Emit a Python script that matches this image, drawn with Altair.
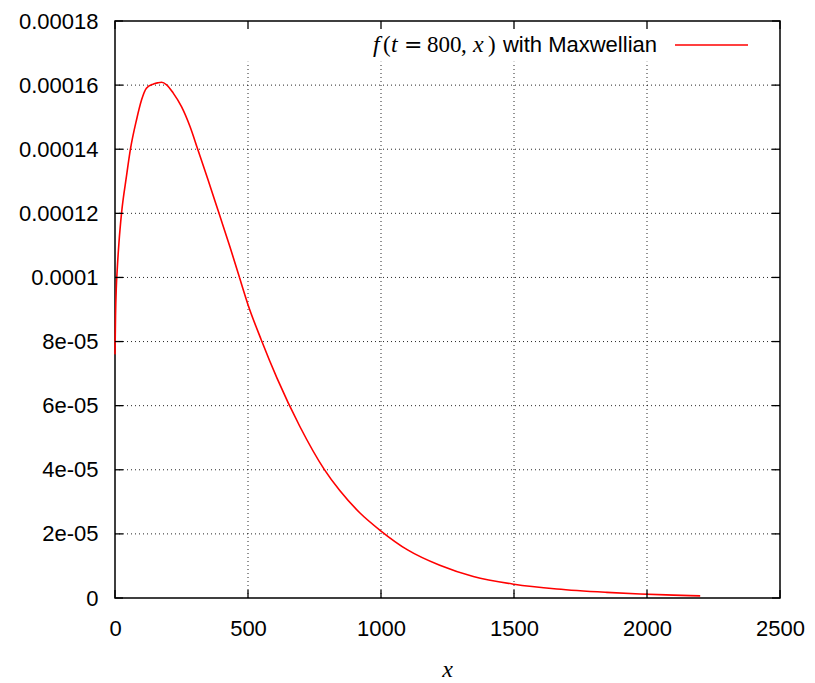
import json
import altair as alt
import pandas as pd

# Distribution f(t=800, x) sampled along x
x_vals = [0, 2, 5, 8.3, 15, 24.5, 43, 58, 81, 100, 118, 143, 160, 175, 194, 219,
          250, 282, 311, 350, 391, 432, 466, 500, 550, 609, 695, 786, 845, 920,
          1000, 1100, 1221, 1347, 1500, 1661, 1849, 1974, 2100, 2200]
f_vals = [7.6e-05, 8.8e-05, 9.7e-05, 1.024e-04, 1.11e-04, 1.20e-04, 1.315e-04,
          1.40e-04, 1.492e-04, 1.554e-04, 1.59e-04, 1.603e-04, 1.607e-04,
          1.609e-04, 1.601e-04, 1.575e-04, 1.533e-04, 1.471e-04, 1.40e-04,
          1.304e-04, 1.20e-04, 1.096e-04, 1.005e-04, 9.15e-05, 8.05e-05, 6.86e-05,
          5.35e-05, 4.02e-05, 3.35e-05, 2.66e-05, 2.09e-05, 1.5e-05, 1.02e-05,
          6.7e-06, 4.3e-06, 2.8e-06, 1.75e-06, 1.25e-06, 0.9e-06, 0.65e-06]

x_ticks = [0, 500, 1000, 1500, 2000, 2500]
y_ticks = [0, 2e-05, 4e-05, 6e-05, 8e-05, 1e-04, 1.2e-04, 1.4e-04, 1.6e-04, 1.8e-04]
y_tick_labels = ["0", "2e-05", "4e-05", "6e-05", "8e-05", "0.0001",
                 "0.00012", "0.00014", "0.00016", "0.00018"]
grid_x = [500, 1000, 1500, 2000]
grid_y = [2e-05, 4e-05, 6e-05, 8e-05, 1e-04, 1.2e-04, 1.4e-04, 1.6e-04]
key_bottom = 1.673e-04  # vertical grid lines stop under the key box

W, H = 665, 577
TICK = 8
SANS = "Liberation Sans"
SERIF = "Liberation Serif"

x_scale = alt.Scale(domain=[0, 2500], nice=False, zero=False)
y_scale = alt.Scale(domain=[0, 0.00018], nice=False, zero=False)

y_label_expr = json.dumps(y_tick_labels) + "[round(datum.value / 2e-05)]"
x_axis = alt.Axis(
    values=x_ticks, format="d", ticks=False, tickSize=0, domain=False, grid=False,
    labelFont=SANS, labelFontSize=22, labelColor="black", labelPadding=20,
    labelFlush=False, labelOverlap=False, title=None)
y_axis = alt.Axis(
    values=y_ticks, labelExpr=y_label_expr, ticks=False, tickSize=0, domain=False,
    grid=False, labelFont=SANS, labelFontSize=22, labelColor="black",
    labelPadding=17, labelOverlap=False, title=None)


def X(field):
    return alt.X(field, type="quantitative", scale=x_scale, axis=x_axis)


def Y(field):
    return alt.Y(field, type="quantitative", scale=y_scale, axis=y_axis)


curve_df = pd.DataFrame({"x": x_vals, "f": f_vals})
gx_df = pd.DataFrame({"x": grid_x, "y0": [0] * len(grid_x), "y1": [key_bottom] * len(grid_x)})
gy_df = pd.DataFrame({"y": grid_y})
xt_df = pd.DataFrame({"x": x_ticks})
yt_df = pd.DataFrame({"y": y_ticks})
one_row = pd.DataFrame({"k": [0]})

grid_style = dict(color="black", strokeWidth=1, strokeDash=[1, 3], opacity=0.85)

vgrid = alt.Chart(gx_df).mark_rule(**grid_style).encode(
    x=X("x"), y=Y("y0"), y2="y1:Q",
)
hgrid = alt.Chart(gy_df).mark_rule(**grid_style).encode(
    y=Y("y"), x=alt.value(0), x2=alt.value(W),
)

curve = alt.Chart(curve_df).mark_line(
    color="#ff0000", strokeWidth=1.6, interpolate="monotone"
).encode(x=X("x"), y=Y("f"))

# Inward ticks on all four sides of the frame
tick_style = dict(color="black", strokeWidth=1.3)
ticks_left = alt.Chart(yt_df).mark_rule(**tick_style).encode(
    y=Y("y"), x=alt.value(0), x2=alt.value(TICK))
ticks_right = alt.Chart(yt_df).mark_rule(**tick_style).encode(
    y=Y("y"), x=alt.value(W - TICK), x2=alt.value(W))
ticks_bottom = alt.Chart(xt_df).mark_rule(**tick_style).encode(
    x=X("x"), y=alt.value(H - TICK), y2=alt.value(H))
ticks_top = alt.Chart(xt_df).mark_rule(**tick_style).encode(
    x=X("x"), y=alt.value(0), y2=alt.value(TICK))

# Key: math label f(t = 800, x), caption and a line sample
key_y = 30.7
math_pieces = [
    # text, left edge, font, size, style
    ("f", 258, SERIF, 24, "italic"),
    ("(", 268, SERIF, 23, "normal"),
    ("t", 276, SERIF, 24, "italic"),
    ("=", 289, "DejaVu Serif", 22, "normal"),
    ("800", 312, SERIF, 23, "normal"),
    (",", 346, SERIF, 23, "normal"),
    ("x", 358, SERIF, 24, "italic"),
    (")", 373, SERIF, 23, "normal"),
]
key_layers = []
for txt, px, font, size, style in math_pieces:
    key_layers.append(
        alt.Chart(one_row).mark_text(
            font=font, fontSize=size, fontStyle=style, align="left",
            baseline="alphabetic", color="black",
        ).encode(x=alt.value(px), y=alt.value(key_y), text=alt.value(txt))
    )
key_layers.append(
    alt.Chart(one_row).mark_text(
        font=SANS, fontSize=22, align="right", baseline="alphabetic", color="black",
    ).encode(x=alt.value(542), y=alt.value(key_y), text=alt.value("with Maxwellian"))
)
key_layers.append(
    alt.Chart(one_row).mark_rule(color="#ff0000", strokeWidth=1.6).encode(
        x=alt.value(560), x2=alt.value(633), y=alt.value(24))
)

x_title = alt.Chart(one_row).mark_text(
    font=SERIF, fontSize=24, fontStyle="italic", align="center",
    baseline="alphabetic", color="black",
).encode(x=alt.value(W / 2), y=alt.value(H + 79), text=alt.value("x"))

chart = alt.layer(
    vgrid, hgrid, curve, ticks_left, ticks_right, ticks_bottom, ticks_top,
    *key_layers, x_title,
).properties(
    width=W, height=H,
    autosize=alt.AutoSizeParams(type="none"),
    padding={"left": 115, "top": 21, "right": 35, "bottom": 85},
    background="white",
).configure_view(
    stroke="black", strokeWidth=1.5,
)

chart.save("out.html", embed_options={"renderer": "svg", "actions": False})
